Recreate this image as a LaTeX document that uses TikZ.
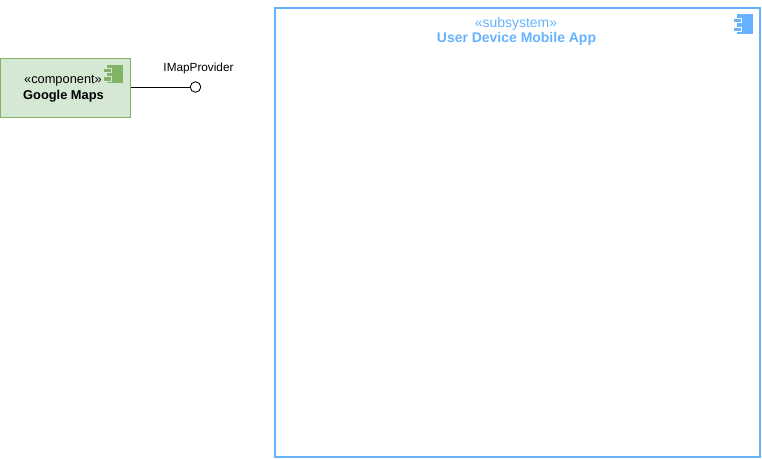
\documentclass[tikz,border=0pt]{standalone}
\usepackage{fontspec}
\setmainfont{Liberation Sans}
\usepackage{xcolor}
\usepackage{tikz}
\usetikzlibrary{positioning}
\definecolor{verdefondo}{RGB}{213,232,212}
\definecolor{verdeborde}{RGB}{130,179,102}
\definecolor{azulsub}{RGB}{102,178,255}

\begin{document}
\begin{tikzpicture}[
  caja/.style={draw=verdeborde, fill=verdefondo, line width=0.5pt, minimum width=2.6cm,
               minimum height=1.18cm, inner sep=0pt},
  subsistema/.style={draw=azulsub, line width=1.25pt, minimum width=9.7cm,
               minimum height=8.98cm, inner sep=0pt},
  estereo/.style={font=\fontsize{7.3}{8}\selectfont, inner sep=0pt},
  titulo/.style={font=\fontsize{7.3}{8}\selectfont\bfseries, inner sep=0pt},
  rotulo/.style={font=\fontsize{6.7}{8}\selectfont, inner sep=0pt},
  azultxt/.style={font=\fontsize{7.95}{9}\selectfont, text=azulsub, inner sep=0pt},
  cuerpo/.style={minimum width=0.32cm, minimum height=#1, inner sep=0pt, line width=0.4pt},
  pestana/.style={minimum width=0.16cm, minimum height=0.09cm, inner sep=0pt, line width=0.3pt},
  puerto/.style={circle, draw=black, fill=white, line width=0.5pt, minimum size=0.21cm, inner sep=0pt}]
  \useasboundingbox (0,0) rectangle (15.24,-9.18);
  % Componente
  \node[caja] (maps) at (1.31,-1.75) {};
  \node[estereo] (mapsest) at (1.26,-1.61) {«component»};
  \node[titulo] (mapstit) at (1.27,-1.92) {Google Maps};
  \node[cuerpo=0.36cm, fill=verdeborde] (mapsic) at (2.3,-1.48) {};
  \node[pestana, fill=verdeborde, draw=verdefondo] (mapstab) at (2.15,-1.41) {};
  \node[pestana, fill=verdeborde, draw=verdefondo] (mapstabb) at (2.15,-1.58) {};
  % Interfaz
  \node[puerto] (proveedor) at (3.91,-1.74) {};
  \node[rotulo, above=0.15cm of proveedor, xshift=0.06cm] (provtxt) {IMapProvider};
  \draw[line width=0.45pt] (maps.east |- proveedor) -- (proveedor);
  % Subsistema
  \node[subsistema] (app) at (10.35,-4.65) {};
  \node[azultxt] (appest) at (10.32,-0.47) {«subsystem»};
  \node[azultxt, font=\fontsize{7.95}{9}\selectfont\bfseries] (apptit) at (10.33,-0.78) {User Device Mobile App};
  \node[cuerpo=0.4cm, fill=azulsub] (appic) at (14.9,-0.48) {};
  \node[pestana, fill=azulsub, draw=white] (apptab) at (14.75,-0.41) {};
  \node[pestana, fill=azulsub, draw=white] (apptabb) at (14.75,-0.59) {};
\end{tikzpicture}
\end{document}
